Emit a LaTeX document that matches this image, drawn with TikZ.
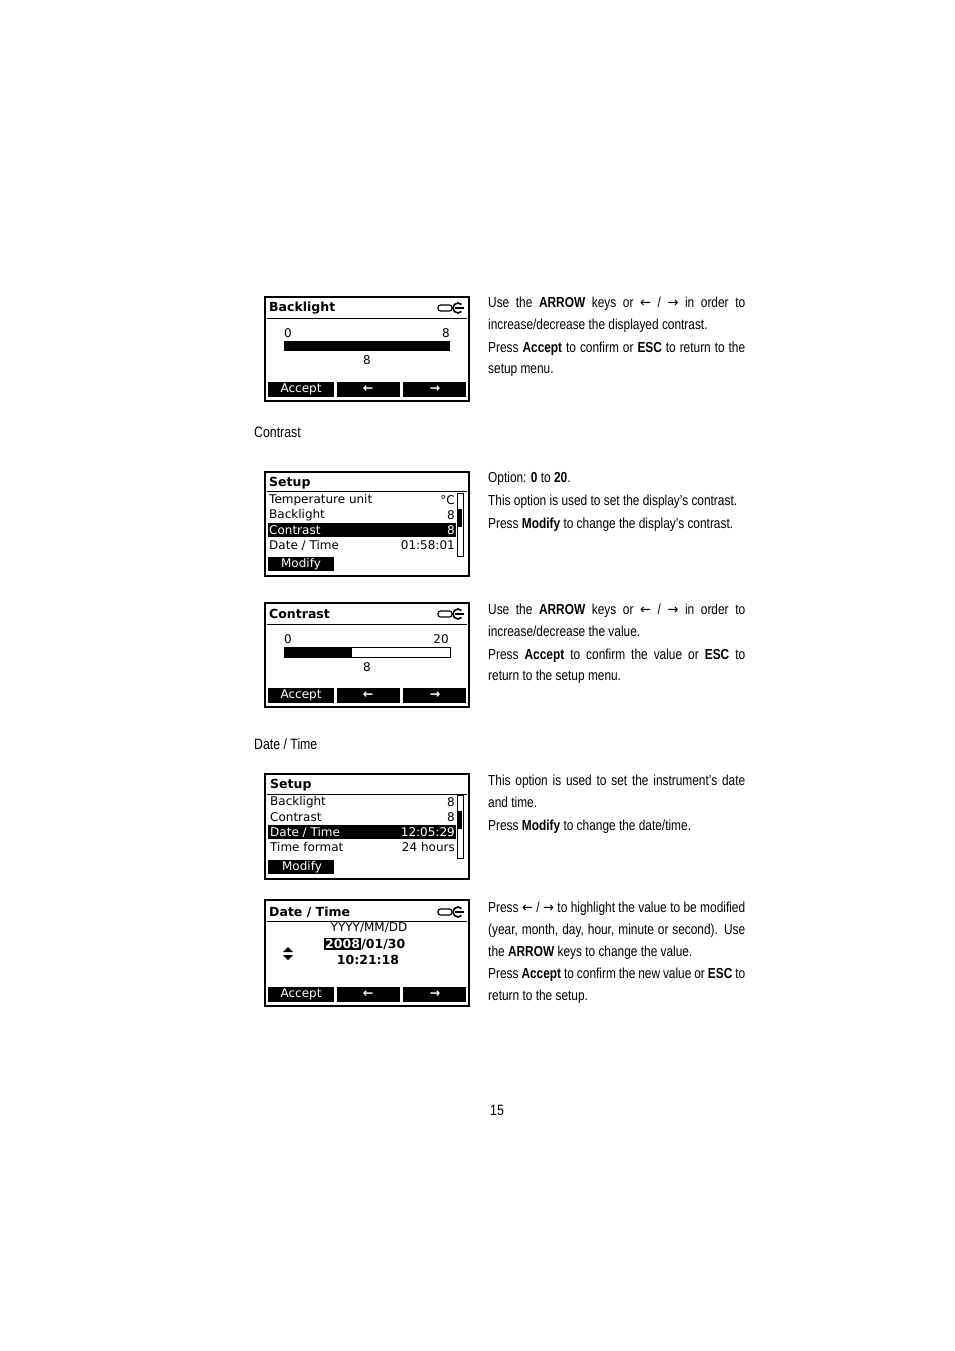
\documentclass[tikz,border=0pt]{standalone}
\usepackage{fontspec}
\setmainfont{Liberation Sans}[FakeStretch=0.82]
\newfontfamily\lcd{DejaVu Sans}
\newfontfamily\lcdb{DejaVu Sans Bold}
\newfontfamily\arrfont{DejaVu Sans}[FakeStretch=0.9]
\hyphenpenalty=10000
\exhyphenpenalty=10000
\emergencystretch=20pt
\newcommand\B[1]{\textbf{#1}}
\newcommand\myla{{\arrfont ←}}
\newcommand\myra{{\arrfont →}}
\newcommand\mysoftkeys[1]{% #1 top y
  \fill (268,#1) rectangle (334,#1+15);
  \fill (337,#1) rectangle (400,#1+15);
  \fill (403,#1) rectangle (466,#1+15);
  \node[lt,text=white] at (301,#1+7.5) {Accept};
  \node[ltb,text=white] at (368,#1+7.5) {←};
  \node[ltb,text=white] at (435,#1+7.5) {→};}
\newcommand\myicon[1]{% center y
  \draw[line width=1.2pt,rounded corners=2.5pt] (438,#1-3) rectangle (452,#1+3);
  \draw[line width=1.6pt] (458,#1) ++(45:5) arc[start angle=45,end angle=315,radius=5];
  \draw[line width=1.4pt] (455,#1) -- (464,#1);}
\begin{document}
\begin{tikzpicture}[x=1pt,y=-1pt,
  scr/.style={line width=2.5pt},
  lt/.style={font=\lcd\fontsize{12}{13}\selectfont,inner sep=0pt},
  ltb/.style={font=\lcdb\fontsize{12.5}{13}\selectfont,inner sep=0pt},
  para/.style={anchor=north west,text width=257pt,align=justify,inner sep=0pt,font=\fontsize{14.5}{21.7}\selectfont},
  sect/.style={anchor=west,inner sep=0pt,font=\fontsize{15}{16}\selectfont}]
\useasboundingbox (0,0) rectangle (954,1351);
% ---------- Screen 1 Backlight
\draw[scr] (265,297) rectangle (469,401);
\node[ltb,anchor=west] at (269,308) {Backlight};
\myicon{308}
\draw[line width=1pt] (267,318) -- (467,318);
\node[lt] at (288,333) {0};
\node[lt] at (446,333) {8};
\fill (284,341) rectangle (450,351);
\node[lt] at (367,360) {8};
\mysoftkeys{382}
\node[para] (t1) at (488,297) {Use the \B{ARROW} keys or \myla{} / \myra{} in order to increase/decrease the displayed contrast.\par\vspace{1pt}
Press \B{Accept} to confirm or \B{ESC} to return to the setup menu.};
\node[sect] (s1) at (254,432) {Contrast};
% ---------- Screen 2 Setup
\draw[scr] (265,472) rectangle (469,576);
\node[ltb,anchor=west] at (269,483) {Setup};
\draw[line width=1pt] (267,491) -- (467,491);
\fill (268,523) rectangle (456,537);
\node[lt,anchor=west] at (269,500) {Temperature unit};
\node[lt,anchor=east] at (455,500) {°C};
\node[lt,anchor=west] at (269,515) {Backlight};
\node[lt,anchor=east] at (455,515) {8};
\node[lt,anchor=west,text=white] at (269,530) {Contrast};
\node[lt,anchor=east,text=white] at (455,530) {8};
\node[lt,anchor=west] at (269,545) {Date / Time};
\node[lt,anchor=east] at (455,545) {01:58:01};
\draw[line width=0.8pt] (457,493) rectangle (463,556);
\fill (458,509) rectangle (462,527);
\fill (268,557) rectangle (334,571);
\node[lt,text=white] at (301,564) {Modify};
\node[para] (t2) at (488,472) {Option: \B{0} to \B{20}.\par\vspace{1pt}
This option is used to set the display’s contrast.\par\vspace{1pt}
Press \B{Modify} to change the display’s contrast.};
% ---------- Screen 3 Contrast
\draw[scr] (265,603) rectangle (469,707);
\node[ltb,anchor=west] at (269,614) {Contrast};
\myicon{614}
\draw[line width=1pt] (267,624) -- (467,624);
\node[lt] at (288,639) {0};
\node[lt] at (441,639) {20};
\draw[line width=0.8pt] (284,647) rectangle (450,657);
\fill (284,647) rectangle (352,657);
\node[lt] at (367,667) {8};
\mysoftkeys{688}
\node[para] (t3) at (488,604) {Use the \B{ARROW} keys or \myla{} / \myra{} in order to increase/decrease the value.\par\vspace{1pt}
Press \B{Accept} to confirm the value or \B{ESC} to return to the setup menu.};
\node[sect] (s2) at (254,744) {Date / Time};
% ---------- Screen 4 Setup
\draw[scr] (265,774) rectangle (469,879);
\node[ltb,anchor=west] at (270,785) {Setup};
\draw[line width=1pt] (267,794) -- (467,794);
\fill (268,825) rectangle (456,839);
\node[lt,anchor=west] at (270,802) {Backlight};
\node[lt,anchor=east] at (455,802) {8};
\node[lt,anchor=west] at (270,817) {Contrast};
\node[lt,anchor=east] at (455,817) {8};
\node[lt,anchor=west,text=white] at (270,832) {Date / Time};
\node[lt,anchor=east,text=white] at (455,832) {12:05:29};
\node[lt,anchor=west] at (270,847) {Time format};
\node[lt,anchor=east] at (455,847) {24 hours};
\draw[line width=0.8pt] (457,795) rectangle (463,858);
\fill (458,811) rectangle (462,829);
\fill (268,860) rectangle (334,874);
\node[lt,text=white] at (302,867) {Modify};
\node[para] (t4) at (488,775) {This option is used to set the instrument’s date and time.\par\vspace{1pt}
Press \B{Modify} to change the date/time.};
% ---------- Screen 5 Date/Time
\draw[scr] (265,900) rectangle (469,1006);
\node[ltb,anchor=west] at (269,912) {Date / Time};
\myicon{912}
\draw[line width=1pt] (267,921) -- (467,921);
\node[lt] at (369,928) {YYYY/MM/DD};
\node[ltb,anchor=west,fill=black,text=white,inner xsep=1pt,inner ysep=1.5pt] (yr) at (324,944) {2008};
\node[ltb,anchor=west] at (yr.east) {/01/30};
\node[ltb] at (368,960) {10:21:18};
\fill (283,952) -- (293,952) -- (288,947) -- cycle;
\fill (283,955) -- (293,955) -- (288,960) -- cycle;
\mysoftkeys{987}
\node[para] (t5) at (488,902) {Press \myla{} / \myra{} to highlight the value to be modified (year, month, day, hour, minute or second). Use the \B{ARROW} keys to change the value.\par\vspace{1pt}
Press \B{Accept} to confirm the new value or \B{ESC} to return to the setup.};
\node[inner sep=0pt,font=\fontsize{15}{16}\selectfont] (pg) at (497,1110) {15};
\end{tikzpicture}
\end{document}
